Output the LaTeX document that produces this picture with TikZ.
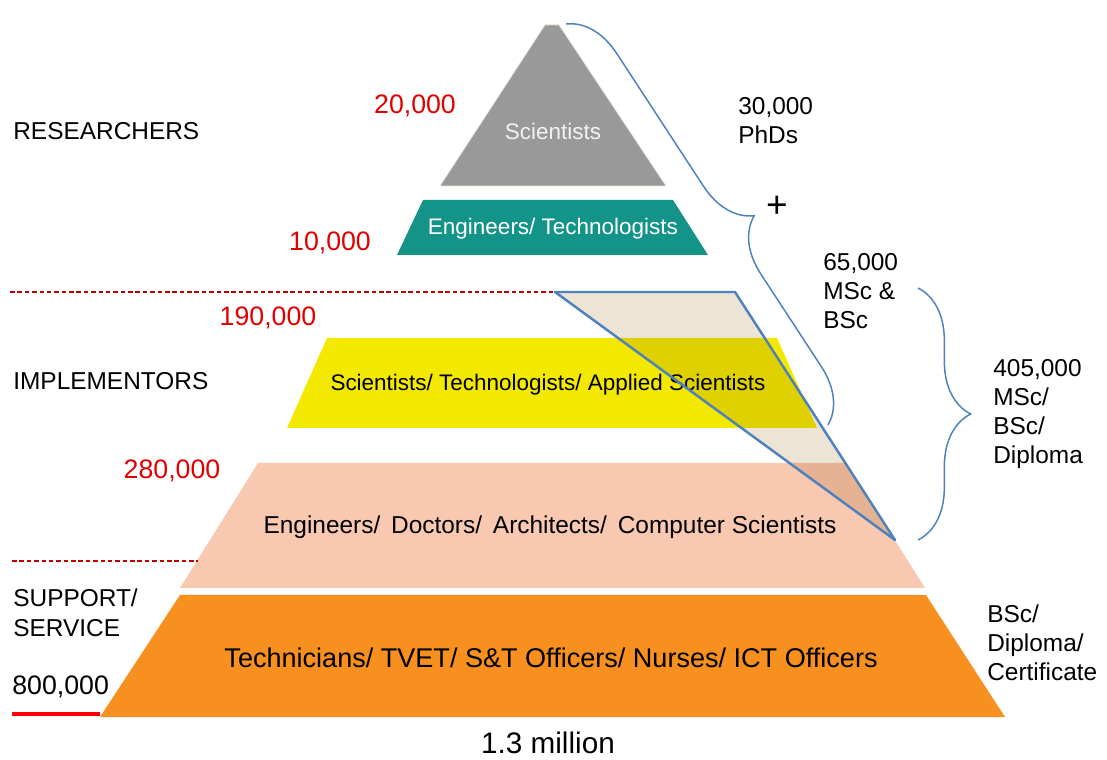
\documentclass[tikz,border=0pt]{standalone}
\usepackage{fontspec}
\setmainfont{Liberation Sans}
\usetikzlibrary{decorations.pathreplacing,positioning,calc}

\definecolor{scigray}{RGB}{153,153,153}
\definecolor{engteal}{RGB}{20,148,136}
\definecolor{implyellow}{RGB}{242,232,0}
\definecolor{engpeach}{RGB}{248,200,176}
\definecolor{techorange}{RGB}{247,144,30}
\definecolor{numred}{RGB}{225,0,0}
\definecolor{braceblue}{RGB}{79,129,189}
\definecolor{hatchbeige}{RGB}{236,229,214}

\tikzset{
  redval/.style={text=numred, inner sep=0pt, font=\fontsize{15.2}{18}\selectfont},
  tierlabel/.style={inner sep=0pt, font=\fontsize{12.8}{15}\selectfont},
  grouplabel/.style={anchor=west, align=left, inner sep=0pt, font=\fontsize{13.9}{17}\selectfont},
  sidelabel/.style={anchor=west, align=left, inner sep=0pt, font=\fontsize{13.9}{16.4}\selectfont},
  cbrace/.style={draw=braceblue, line width=0.85pt, decorate,
    decoration={brace, amplitude=30pt, aspect=#1}},
  cbrace/.default=0.5,
  levelline/.style={draw=numred!85!black, line width=0.7pt, dash pattern=on 2.6pt off 1.6pt},
}

\begin{document}
\begin{tikzpicture}[x=0.02cm, y=-0.02cm]
    \useasboundingbox (0,0) rectangle (1107,760);
    % pyramid tiers
    \filldraw[fill=scigray, draw=brown!25, line width=0.4pt]
      (440,186) -- (545,25) -- (559,25) -- (666,186) -- cycle;
    \fill[engteal] (423,200) -- (673,200) -- (708,255) -- (397,255) -- cycle;
    \fill[implyellow] (327,338) -- (777,338) -- (817,428) -- (287,428) -- cycle;
    \fill[engpeach] (258,463) -- (846,463) -- (925,588) -- (180,588) -- cycle;
    \fill[techorange] (180,595) -- (926,595) -- (1005,717) -- (100,717) -- cycle;
    % tier texts
    \node[tierlabel, text=gray!10] (sci) at (553,131) {Scientists};
    \node[tierlabel, text=white] (engtech) at (553,229) {Engineers/ Technologists};
    \node[tierlabel] (applied) at (548,385) {Scientists/ Technologists/ Applied Scientists};
    \node[tierlabel, font=\fontsize{13.9}{17}\selectfont] (doctors) at (550,527)
      {Engineers/\ \,Doctors/\ \,Architects/\ \,Computer Scientists};
    \node[tierlabel, font=\fontsize{15.4}{18}\selectfont] (techs) at (551,658)
      {Technicians/ TVET/ S\&T Officers/ Nurses/ ICT Officers};
    \node[inner sep=0pt, font=\fontsize{16.9}{20}\selectfont] (total) at (548,743) {1.3 million};
    % MSc & BSc share
    \coordinate (msctl) at (555,292);
    \coordinate (msctr) at (735,292);
    \coordinate (mscbot) at (895,540);
    \begin{scope}[blend mode=multiply]
      \fill[hatchbeige] (msctl) -- (msctr) -- (mscbot) -- cycle;
    \end{scope}
    \draw[braceblue, line width=1.4pt, line join=round] (msctl) -- (msctr) -- (mscbot) -- cycle;
    % level lines
    \draw[levelline] (10,292) -- (msctl);
    \draw[levelline] (12,561) -- (198,561);
    \draw[draw=red, line width=2pt] (12,714) -- (100,714);
    % red counts
    \node[redval] (n20) at (415,106) {20,000};
    \node[redval] (n10) at (330,243) {10,000};
    \node[redval] (n190) at (268,318) {190,000};
    \node[redval] (n280) at (172,471) {280,000};
    \node[redval, text=black, anchor=west] (n800) at (12,687) {800,000};
    % groups
    \node[grouplabel] (res) at (13,131) {RESEARCHERS};
    \node[grouplabel] (impl) at (13,381) {IMPLEMENTORS};
    \node[grouplabel] (supp) at (13,613) {SUPPORT/\\SERVICE};
    % braces
    \coordinate (phdtop) at (566,24);
    \coordinate (phdbot) at (828,425);
    \draw[cbrace=0.55] (phdtop) -- (phdbot);
    \coordinate (dipltop) at (918,288);
    \coordinate (diplbot) at (918,540);
    \draw[cbrace] (dipltop) -- (diplbot);
    % qualifications
    \node[sidelabel] (phd) at (738,121) {30,000\\PhDs};
    \node[inner sep=0pt, font=\fontsize{21}{24}\selectfont] (plus) at (777,207) {+};
    \node[sidelabel] (msc) at (823,291) {65,000\\MSc \&\\BSc};
    \node[sidelabel] (dipl) at (993,414) {405,000\\MSc/\\BSc/\\Diploma};
    \node[sidelabel] (cert) at (987,643) {BSc/\\Diploma/\\Certificate};
\end{tikzpicture}
\end{document}
